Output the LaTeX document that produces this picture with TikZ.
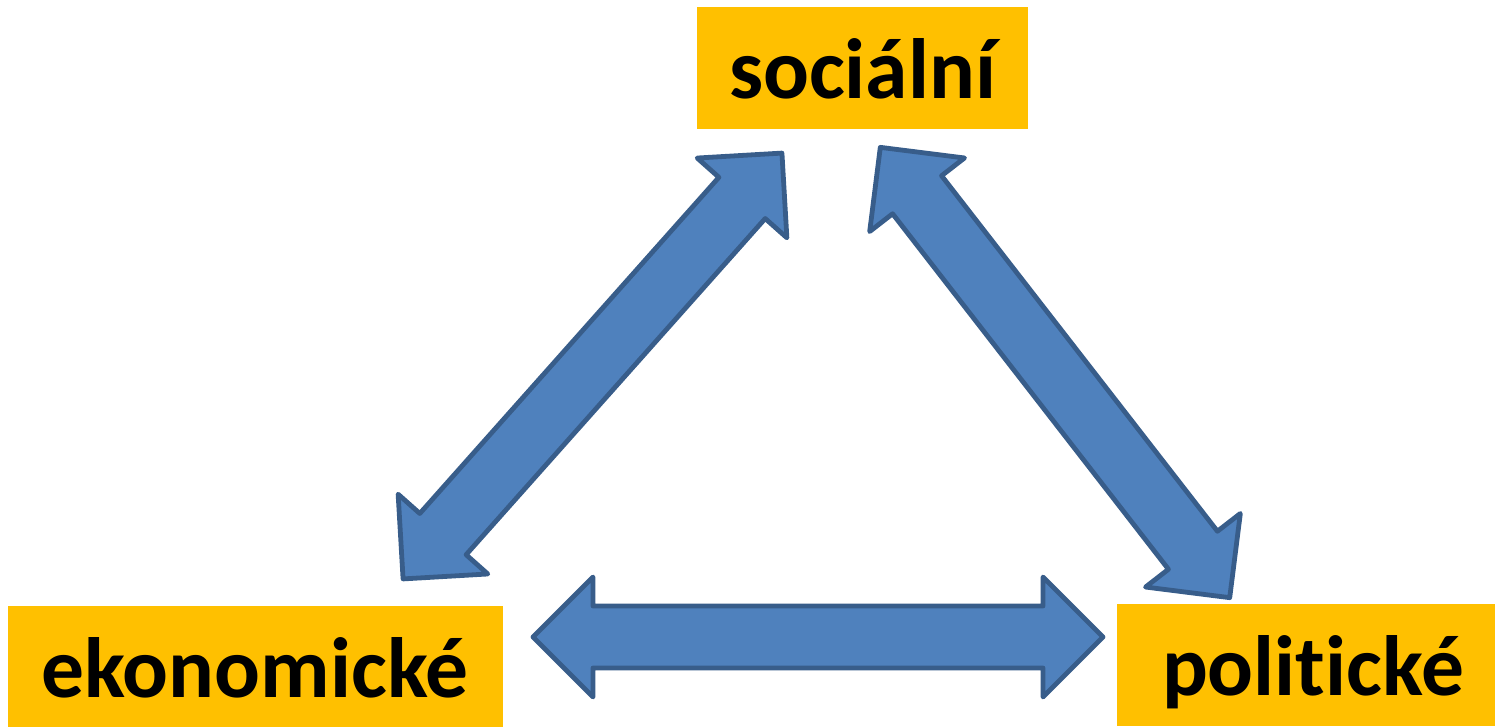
\documentclass[tikz,border=0pt]{standalone}
\usepackage{fontspec}
\setmainfont{Carlito}[Ligatures=NoCommon, RawFeature={-liga;-clig;-calt;-dlig}]
\definecolor{boxorange}{HTML}{FFC000}
\definecolor{arrowfill}{HTML}{4F81BD}
\definecolor{arrowline}{HTML}{385D8A}
\tikzset{
  labelbox/.style={fill=boxorange, inner sep=0pt, text height=60pt, text depth=0pt,
    font=\fontsize{85.5}{100}\selectfont\bfseries, text=black},
  arrowstyle/.style={fill=arrowfill, draw=arrowline, line width=4.8pt, line join=round},
  dblarrow/.pic={
    \draw[arrowstyle] (-285,0) -- (-225,60) -- (-225,31) -- (225,31) -- (225,60) -- (285,0)
      -- (225,-60) -- (225,-31) -- (-225,-31) -- (-225,-60) -- cycle;
  }
}
\begin{document}
\begin{tikzpicture}[x=1pt,y=-1pt]
\useasboundingbox (0,0) rectangle (1495,726);
\node[labelbox, minimum width=331pt, minimum height=122pt] (soc) at (862.5,68) {sociální};
\node[labelbox, minimum width=495pt, minimum height=122pt] (eko) at (255,667) {ekonomické};
\node[labelbox, minimum width=392pt, minimum height=122pt] (pol) at (1313,665) {poli{}tické};
\pic[rotate=48.34] (arrowES) at (592.5,366) {dblarrow};
\pic[rotate=-52.19] (arrowSP) at (1055,372.5) {dblarrow};
\pic (arrowEP) at (818,637) {dblarrow};
\end{tikzpicture}
\end{document}
